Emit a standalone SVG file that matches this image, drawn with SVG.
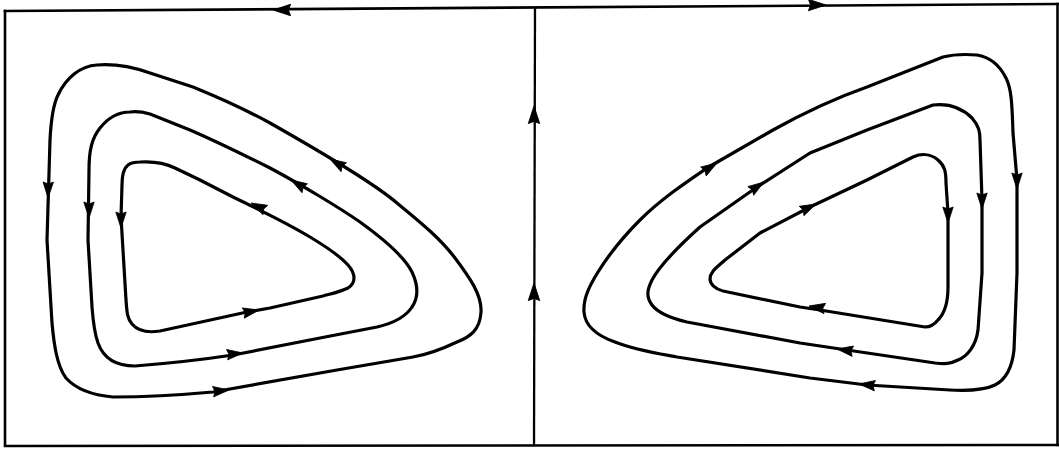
<svg xmlns="http://www.w3.org/2000/svg" xmlns:xlink="http://www.w3.org/1999/xlink" width="1059" height="450" viewBox="0 0 1059 450">
<style>
.frame{fill:none;stroke:#000;stroke-width:2.6;stroke-linecap:square}
.sep{fill:none;stroke:#000;stroke-width:2.3}
.orbit{fill:none;stroke:#000;stroke-width:3.2;stroke-linejoin:round}
.ah{fill:#000;stroke:#000;stroke-width:0.8;stroke-linejoin:round}
</style>
<defs>
<path id="ah" d="M0,0 L-16,-5.2 L-14,0 L-16,5.2 Z"/>
</defs>
<rect width="1059" height="450" fill="#fff"/>
<g id="frame">
<path class="frame" d="M5,11 L1059,4"/>
<path class="frame" d="M5,11 L5,446 L1059,445"/>
<path class="frame" d="M1057.5,4 L1057.5,445"/>
</g>
<g id="connectors">
<path class="sep" d="M535,8 L534,446"/>
<use href="#ah" class="ah" transform="translate(534,106) rotate(-90) scale(1.1)"/>
<use href="#ah" class="ah" transform="translate(534,283) rotate(-90) scale(1.1)"/>
<use href="#ah" class="ah" transform="translate(273,10) rotate(180) scale(1.1)"/>
<use href="#ah" class="ah" transform="translate(826,5) rotate(0) scale(1.1)"/>
</g>
<g id="left-outer">
<path class="orbit" d="M97,65 C110,64 130,66 150,73 L193,87 C215,96 250,112 270,123 C300,140 370,180 397,203 C420,222 440,238 455,258 C470,278 482,295 481,312 C480,330 470,337 457,342 C440,350 425,355 413,357 L337,370 L213,392 C180,395 140,397 113,397 C90,395 75,388 66,378 C57,366 54,345 52,323 L47,240 L50,140 C51,120 53,105 58,95 C66,78 80,66 97,65 Z"/>
<use href="#ah" class="ah" transform="translate(48,198) rotate(91)"/>
<use href="#ah" class="ah" transform="translate(330,159) rotate(211)"/>
<use href="#ah" class="ah" transform="translate(229,390) rotate(-6)"/>
</g>
<g id="left-middle">
<path class="orbit" d="M130,112 C137,111 143,112 150,114 L190,130 C220,143 250,158 270,168 C300,184 340,208 360,222 C385,240 405,258 412,272 C418,285 419,297 412,307 C405,318 390,324 377,327 L320,338 L233,355 C200,360 160,364 135,366 C115,366 103,357 98,343 C94,332 93,320 92,307 L88,240 L89,170 C89,150 92,138 100,128 C108,118 118,112 130,112 Z"/>
<use href="#ah" class="ah" transform="translate(89,218) rotate(90)"/>
<use href="#ah" class="ah" transform="translate(291,180) rotate(211)"/>
<use href="#ah" class="ah" transform="translate(243,353) rotate(-6)"/>
</g>
<g id="left-inner">
<path class="orbit" d="M140,162 C155,161 165,163 175,168 L200,180 L233,197 C260,210 290,225 310,237 C325,246 340,256 348,265 C356,274 356,283 348,288 C340,292 330,294 323,296 L270,308 L247,312 L160,331 C148,333 138,331 132,324 C127,318 127,312 126,300 L121,217 L122,185 C122,175 124,168 128,165 C132,162 136,162 140,162 Z"/>
<use href="#ah" class="ah" transform="translate(121,228) rotate(90)"/>
<use href="#ah" class="ah" transform="translate(251,203) rotate(206)"/>
<use href="#ah" class="ah" transform="translate(259,310) rotate(-11)"/>
</g>
<g id="right-outer">
<path class="orbit" d="M977,55 C990,57 1000,66 1006,78 C1011,88 1012,100 1013,133 L1017,180 L1017,273 L1014,350 C1012,368 1005,380 995,385 C985,390 970,391 950,390 L867,385 L810,378 L677,357 C655,353 635,350 615,342 C595,335 585,325 584,312 C583,298 590,285 598,272 C608,256 625,235 640,220 C660,200 685,183 707,168 L773,130 C800,115 830,100 867,87 L943,57 C955,54 965,54 977,55 Z"/>
<use href="#ah" class="ah" transform="translate(717,163) rotate(-32)"/>
<use href="#ah" class="ah" transform="translate(1017,189) rotate(90)"/>
<use href="#ah" class="ah" transform="translate(859,384) rotate(186)"/>
</g>
<g id="right-middle">
<path class="orbit" d="M933,105 C950,103 962,108 972,118 C979,126 980,132 980,140 L982,200 L982,273 L978,330 C976,345 968,356 958,360 C950,364 945,364 935,363 L847,350 L800,343 L687,322 C670,318 658,313 652,305 C646,297 647,290 652,280 C660,265 680,245 700,227 L757,187 L810,153 L867,130 Z"/>
<use href="#ah" class="ah" transform="translate(764,182) rotate(-34)"/>
<use href="#ah" class="ah" transform="translate(982,209) rotate(90)"/>
<use href="#ah" class="ah" transform="translate(837,349) rotate(188)"/>
</g>
<g id="right-inner">
<path class="orbit" d="M913,157 C920,154 930,153 938,160 C945,166 946,172 946,183 L948,213 L948,287 C948,303 945,313 938,320 C934,325 930,327 925,327 L820,310 L800,307 L723,291 C715,289 710,284 710,279 C710,272 716,268 725,260 L760,233 L810,207 L867,180 Z"/>
<use href="#ah" class="ah" transform="translate(816,204) rotate(-26)"/>
<use href="#ah" class="ah" transform="translate(948,223) rotate(90)"/>
<use href="#ah" class="ah" transform="translate(809,306) rotate(189)"/>
</g>
</svg>
